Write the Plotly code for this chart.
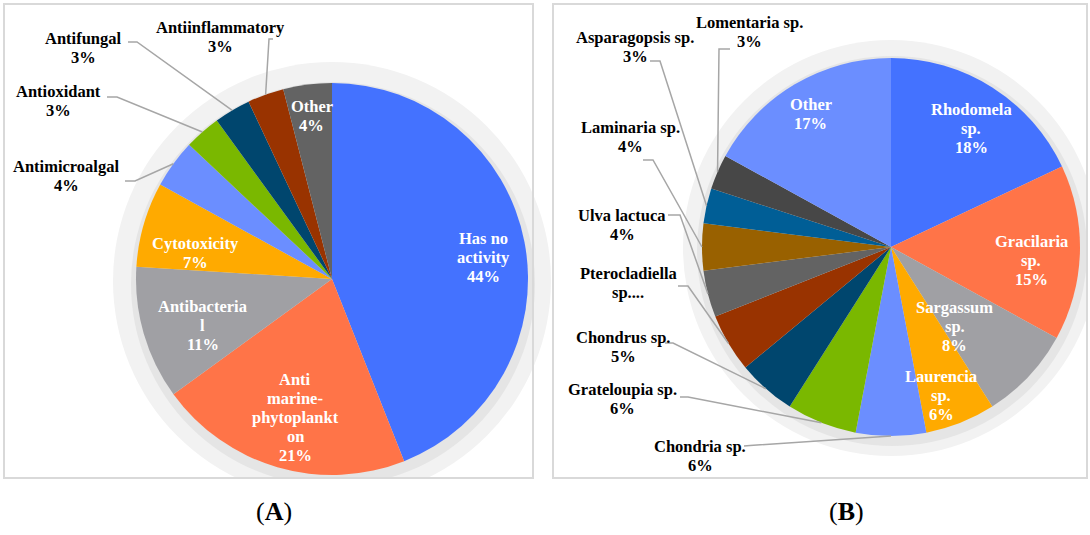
import math
import plotly.graph_objects as go

W, H = 1090, 535

# ---------------- data ----------------
a_labels = ["Has no activity", "Anti marine-phytoplankton", "Antibacterial", "Cytotoxicity",
            "Antimicroalgal", "Antioxidant", "Antifungal", "Antiinflammatory", "Other"]
a_values = [44, 21, 11, 7, 4, 3, 3, 3, 4]
a_text = ["Has no<br>activity<br>44%", "Anti<br>marine-<br>phytoplankt<br>on<br>21%",
          "Antibacteria<br>l<br>11%", "Cytotoxicity<br>7%", "Antimicroalgal<br>4%",
          "Antioxidant<br>3%", "Antifungal<br>3%", "Antiinflammatory<br>3%", "Other<br>4%"]

b_labels = ["Rhodomela sp.", "Gracilaria sp.", "Sargassum sp.", "Laurencia sp.", "Chondria sp.",
            "Grateloupia sp.", "Chondrus sp.", "Pterocladiella sp.", "Ulva lactuca", "Laminaria sp.",
            "Asparagopsis sp.", "Lomentaria sp.", "Other"]
b_values = [18, 15, 8, 6, 6, 6, 5, 5, 4, 4, 3, 3, 17]
b_text = ["Rhodomela<br>sp.<br>18%", "Gracilaria<br>sp.<br>15%", "Sargassum<br>sp.<br>8%",
          "Laurencia<br>sp.<br>6%", "Chondria sp.<br>6%", "Grateloupia sp.<br>6%",
          "Chondrus sp.<br>5%", "Pterocladiella<br>sp....", "Ulva lactuca<br>4%",
          "Laminaria sp.<br>4%", "Asparagopsis sp.<br>3%", "Lomentaria sp.<br>3%", "Other<br>17%"]

# ---------------- style ----------------
a_colors = ["#4472FF", "#FF7448", "#A0A0A4", "#FFAA00", "#6B8EFF", "#7AB800",
            "#00466E", "#993300", "#636363"]
b_colors = ["#4472FF", "#FF7448", "#A0A0A4", "#FFAA00", "#6B8EFF", "#7AB800",
            "#00466E", "#993300", "#636363", "#996100", "#005E96", "#474747", "#6B8EFF"]

FONT = "Liberation Serif, Times New Roman, serif"
FS = 16.5
LS = 19  # line spacing in px

def px(x):
    return x / W

def py(y):
    return 1 - y / H

A_C, A_R = (332, 279), 196
B_C, B_R = (891, 247), 189

# label layout: inside -> ("in", radial fraction, angle offset deg)
#               outside -> ("out", center x, center y, [start pt, elbow pt])
a_layout = [("in", 0.78, 2.6), ("in", 0.73, -1.3), ("in", 0.70, -3.4), ("in", 0.71, -5.4),
            ("out", 66, 176, [(125, 181), (135, 181)]),
            ("out", 58, 101, [(107, 97), (117, 97)]),
            ("out", 83, 48, [(128, 42), (137, 42)]),
            ("out", 220, 37, [(273, 39), (269, 39)]),
            ("in", 0.84, 0.2)]
b_layout = [("in", 0.755, 1.7), ("in", 0.745, 3.9), ("in", 0.54, 8.1), ("in", 0.83, 2.9),
            ("out", 700, 455.5, [(744, 446), (750, 445.5)]),
            ("out", 622, 399, [(680, 397), (688, 397)]),
            ("out", 623, 347, [(665, 343), (673, 343)]),
            ("out", 628, 283, [(678, 286), (688, 286)]),
            ("out", 622, 225.5, [(668, 215), (680, 215)]),
            ("out", 630, 137.5, [(643, 160), (653, 160)]),
            ("out", 635, 47, [(650, 61), (660, 61)]),
            ("out", 749, 32, [(730, 49), (719, 49)]),
            ("in", 0.82, -0.6)]

fig = go.Figure()
shapes = []
annotations = []

def circle(cx, cy, r, color):
    return dict(type="circle", xref="paper", yref="paper", layer="below",
                x0=px(cx - r), x1=px(cx + r), y0=py(cy + r), y1=py(cy - r),
                fillcolor=color, line=dict(width=0))

def rect(x0, y0, x1, y1, **kw):
    return dict(type="rect", xref="paper", yref="paper",
                x0=px(x0), x1=px(x1), y0=py(y1), y1=py(y0), **kw)

# shadows
shapes.append(circle(332, 281, 219, "#F2F2F2"))
shapes.append(circle(333, 284, 202, "#E5E5E5"))
shapes.append(circle(891, 248, 208, "#F2F2F2"))
shapes.append(circle(892, 251, 195, "#E5E5E5"))
# clip shadows outside panels
shapes.append(rect(0, 478, W, H, layer="below", fillcolor="white", line=dict(width=0)))
shapes.append(rect(1087, 0, W, H, layer="below", fillcolor="white", line=dict(width=0)))
# panel borders
for (x0, y0, x1, y1) in [(4, 4, 533, 478), (553, 4, 1087, 478)]:
    shapes.append(rect(x0, y0, x1, y1, layer="above", fillcolor="rgba(0,0,0,0)",
                       line=dict(color="#D9D9D9", width=2)))


def add_pie(labels, values, colors, texts, layout, center, radius):
    cx, cy = center
    fig.add_trace(go.Pie(
        labels=labels, values=values, sort=False, direction="clockwise", rotation=0,
        marker=dict(colors=colors, line=dict(width=0)), textinfo="none",
        hoverinfo="label+percent", showlegend=False,
        domain=dict(x=[px(cx - radius), px(cx + radius)], y=[py(cy + radius), py(cy - radius)])))
    total = sum(values)
    cum = 0
    for v, t, lay in zip(values, texts, layout):
        mid = (cum + v / 2) / total * 360
        cum += v
        if lay[0] == "in":
            ang = math.radians(mid + lay[2])
            lx = cx + radius * lay[1] * math.sin(ang)
            ly = cy - radius * lay[1] * math.cos(ang)
            color = "white"
        else:
            lx, ly = lay[1], lay[2]
            color = "black"
            ang = math.radians(mid)
            ex = cx + radius * 1.0 * math.sin(ang)
            ey = cy - radius * 1.0 * math.cos(ang)
            pts = lay[3] + [(ex, ey)]
            path = "M " + " L ".join(f"{px(x):.5f},{py(y):.5f}" for x, y in pts)
            shapes.append(dict(type="path", xref="paper", yref="paper", layer="above",
                               path=path, line=dict(color="#A6A6A6", width=1.5)))
        lines = t.split("<br>")
        n = len(lines)
        for i, s in enumerate(lines):
            yy = ly + (i - (n - 1) / 2) * LS
            annotations.append(dict(
                x=px(lx), y=py(yy), xref="paper", yref="paper", text="<b>" + s + "</b>",
                showarrow=False, xanchor="center", yanchor="middle",
                font=dict(family=FONT, size=FS, color=color)))


add_pie(a_labels, a_values, a_colors, a_text, a_layout, A_C, A_R)
add_pie(b_labels, b_values, b_colors, b_text, b_layout, B_C, B_R)

for txt, x in [("(<b>A</b>)", 274), ("(<b>B</b>)", 846)]:
    annotations.append(dict(x=px(x), y=py(511), xref="paper", yref="paper", text=txt,
                            showarrow=False, xanchor="center", yanchor="middle",
                            font=dict(family=FONT, size=26, color="black")))

fig.update_layout(width=W, height=H, margin=dict(l=0, r=0, t=0, b=0),
                  paper_bgcolor="white", plot_bgcolor="white",
                  shapes=shapes, annotations=annotations)
fig.write_html("out.html", config={"displayModeBar": False},
               post_script="document.body.style.margin='0';")
